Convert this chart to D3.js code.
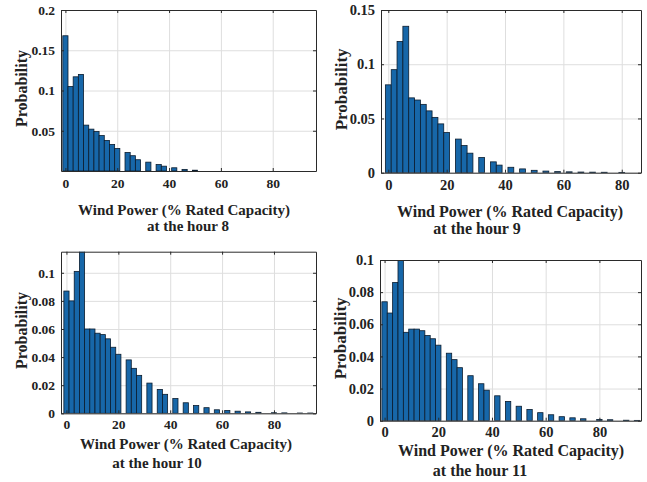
<!DOCTYPE html>
<html>
<head>
<meta charset="utf-8">
<script src="https://cdn.jsdelivr.net/npm/d3@7"></script>
<style>
  body { margin: 0; background: #fff; }
  text { font-family: "Liberation Serif", "Times New Roman", serif; font-weight: bold; fill: #222; }
</style>
</head>
<body>
<svg width="647" height="482"></svg>
<script>
// wind power bins (% rated capacity)
var windBins = [0, 2, 4, 6, 8, 10, 12, 14, 16, 18, 20, 24, 26, 28, 32, 36, 38, 42, 46, 50,
                54, 58, 62, 66, 70, 74, 80, 84, 90, 94];

// probabilities, one array per hour
var probHour8 = [0.168, 0.105, 0.117, 0.120, 0.057, 0.052, 0.049, 0.044, 0.038, 0.033,
                 0.028, 0.023, 0.019, 0.014, 0.011, 0.008, 0.006, 0.004, 0.002, 0.001,
                 0, 0, 0, 0, 0, 0, 0, 0, 0, 0];
var probHour9 = [0.081, 0.095, 0.121, 0.135, 0.069, 0.067, 0.063, 0.057, 0.051, 0.045,
                 0.037, 0.031, 0.025, 0.018, 0.014, 0.010, 0.007, 0.005, 0.0035, 0.0022,
                 0.0015, 0.001, 0.0008, 0.0006, 0.0005, 0.0004, 0.0003, 0, 0, 0];
var probHour10 = [0.087, 0.080, 0.101, 0.118, 0.060, 0.060, 0.057, 0.056, 0.053, 0.047,
                  0.042, 0.038, 0.032, 0.027, 0.0215, 0.017, 0.0135, 0.0105, 0.0075, 0.0055,
                  0.004, 0.0025, 0.002, 0.0015, 0.001, 0.0007, 0.0004, 0.0003, 0.0002, 0.0002];
var probHour11 = [0.074, 0.067, 0.086, 0.104, 0.055, 0.057, 0.057, 0.056, 0.053, 0.051,
                  0.047, 0.042, 0.038, 0.033, 0.028, 0.023, 0.019, 0.0155, 0.012, 0.009,
                  0.007, 0.005, 0.0037, 0.0025, 0.0018, 0.0012, 0.0008, 0.0006, 0.0003, 0.0002];

// tick labels
var xTicks = [0, 20, 40, 60, 80];
var yTicks8 = [0.05, 0.1, 0.15, 0.2];
var yTicks9 = [0, 0.05, 0.1, 0.15];
var yTicks10 = [0, 0.02, 0.04, 0.06, 0.08, 0.1];
var yTicks11 = [0, 0.02, 0.04, 0.06, 0.08, 0.1];
var hours = [8, 9, 10, 11];

var svg = d3.select("svg");

// one entry per subplot: box in pixels plus axis limits
var panels = [
  {hour: hours[0], values: probHour8, yTicks: yTicks8, left: 61, top: 10, right: 316, bottom: 171,
   xDom: [-1.7, 96.7], yDom: [0, 0.2], fs: 15, pad: 7, l1: [184, 215], l2: [188, 231]},
  {hour: hours[1], values: probHour9, yTicks: yTicks9, left: 381, top: 10, right: 641, bottom: 172.7,
   xDom: [-2.5, 86.6], yDom: [0, 0.15], fs: 16, pad: 7, l1: [510, 217], l2: [477, 234]},
  {hour: hours[2], values: probHour10, yTicks: yTicks10, left: 61, top: 251.7, right: 316, bottom: 413.3,
   xDom: [-2.1, 96.2], yDom: [0, 0.115], fs: 15, pad: 6, l1: [186, 449], l2: [157, 468]},
  {hour: hours[3], values: probHour11, yTicks: yTicks11, left: 380, top: 260, right: 641, bottom: 420.7,
   xDom: [-1.7, 95.5], yDom: [0, 0.1], fs: 16, pad: 6, l1: [511, 456], l2: [480, 476]}
];

panels.forEach(function(p, i) {
  var x = d3.scaleLinear().domain(p.xDom).range([p.left, p.right]);
  var y = d3.scaleLinear().domain(p.yDom).range([p.bottom, p.top]);
  var w = p.right - p.left, h = p.bottom - p.top;

  var g = svg.append("g");

  g.append("clipPath").attr("id", "clip" + i)
    .append("rect").attr("x", p.left).attr("y", p.top).attr("width", w).attr("height", h);

  // grid lines
  g.append("g")
    .attr("transform", "translate(0," + p.bottom + ")")
    .call(d3.axisBottom(x).tickValues(xTicks).tickSize(-h).tickFormat(""))
    .call(function(s) { s.select(".domain").remove(); })
    .selectAll("line").attr("stroke", "#dedede");
  g.append("g")
    .attr("transform", "translate(" + p.left + ",0)")
    .call(d3.axisLeft(y).tickValues(p.yTicks).tickSize(-w).tickFormat(""))
    .call(function(s) { s.select(".domain").remove(); })
    .selectAll("line").attr("stroke", "#dedede");

  // bars
  var bw = x(2) - x(0);
  g.append("g").attr("clip-path", "url(#clip" + i + ")")
    .selectAll("rect")
    .data(windBins.map(function(b, k) { return {bin: b, v: p.values[k]}; })
      .filter(function(d) { return d.v > 0; }))
    .enter().append("rect")
    .attr("x", function(d) { return x(d.bin) - bw / 2; })
    .attr("y", function(d) { return y(d.v); })
    .attr("width", bw)
    .attr("height", function(d) { return p.bottom - y(d.v); })
    .attr("fill", "#1767a9")
    .attr("stroke", "#0b1c2e")
    .attr("stroke-width", 0.8);

  // axes with inward ticks, like a boxed matlab plot
  var fmt = function(d) { return d3.format("~g")(d); };
  var xa = g.append("g")
    .attr("transform", "translate(0," + p.bottom + ")")
    .call(d3.axisBottom(x).tickValues(xTicks).tickSizeInner(-3).tickSizeOuter(0).tickPadding(p.pad).tickFormat(fmt));
  var ya = g.append("g")
    .attr("transform", "translate(" + p.left + ",0)")
    .call(d3.axisLeft(y).tickValues(p.yTicks).tickSizeInner(-3).tickSizeOuter(0).tickPadding(6).tickFormat(fmt));
  g.append("g")
    .attr("transform", "translate(0," + p.top + ")")
    .call(d3.axisTop(x).tickValues(xTicks).tickSizeInner(-3).tickSizeOuter(0).tickFormat(""));
  g.append("g")
    .attr("transform", "translate(" + p.right + ",0)")
    .call(d3.axisRight(y).tickValues(p.yTicks).tickSizeInner(-3).tickSizeOuter(0).tickFormat(""));

  g.selectAll(".domain").attr("stroke", "#2a2a2a");
  g.selectAll(".tick line").filter(function() { return this.getAttribute("stroke") !== "#dedede"; })
    .attr("stroke", "#2a2a2a");
  xa.selectAll("text").attr("font-size", p.fs - 1.5).attr("font-family", null).attr("fill", "#2a2a2a");
  ya.selectAll("text").attr("font-size", p.fs - 1.5).attr("font-family", null).attr("fill", "#2a2a2a");

  // y label
  g.append("text")
    .attr("transform", "translate(" + (p.left - 34) + "," + (p.top + h / 2 - 2) + ") rotate(-90)")
    .attr("text-anchor", "middle")
    .attr("font-size", p.fs + 1)
    .text("Probability");

  // x label, two lines
  g.append("text")
    .attr("x", p.l1[0]).attr("y", p.l1[1])
    .attr("text-anchor", "middle")
    .attr("font-size", p.fs)
    .text("Wind Power (% Rated Capacity)");
  g.append("text")
    .attr("x", p.l2[0]).attr("y", p.l2[1])
    .attr("text-anchor", "middle")
    .attr("font-size", p.fs)
    .text("at the hour " + p.hour);
});
</script>
</body>
</html>
